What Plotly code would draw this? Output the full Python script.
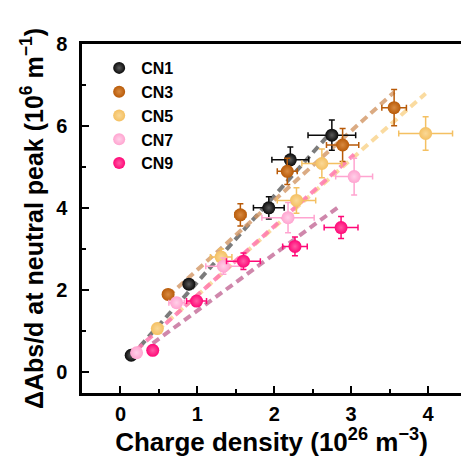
import plotly.graph_objects as go
import numpy as np

names = ["CN1", "CN3", "CN5", "CN7", "CN9"]

# charge density (1e26 m^-3) and dAbs/d (1e6 m^-1), with error bars
x_cn1 = [0.14, 0.89, 1.93, 2.21, 2.75]
y_cn1 = [0.42, 2.15, 4.01, 5.18, 5.78]
ex_cn1 = [0.00, 0.00, 0.20, 0.24, 0.31]
ey_cn1 = [0.00, 0.00, 0.27, 0.31, 0.37]

x_cn3 = [0.62, 1.56, 2.17, 2.89, 3.56]
y_cn3 = [1.90, 3.84, 4.90, 5.54, 6.45]
ex_cn3 = [0.00, 0.07, 0.13, 0.21, 0.16]
ey_cn3 = [0.00, 0.27, 0.32, 0.40, 0.44]

x_cn5 = [0.48, 1.31, 2.29, 2.62, 3.97]
y_cn5 = [1.07, 2.81, 4.19, 5.09, 5.82]
ex_cn5 = [0.00, 0.14, 0.25, 0.26, 0.35]
ey_cn5 = [0.00, 0.20, 0.31, 0.35, 0.41]

x_cn7 = [0.21, 0.73, 1.34, 2.18, 3.04]
y_cn7 = [0.48, 1.70, 2.59, 3.77, 4.77]
ex_cn7 = [0.00, 0.10, 0.23, 0.34, 0.24]
ey_cn7 = [0.00, 0.10, 0.20, 0.37, 0.45]

x_cn9 = [0.42, 0.99, 1.60, 2.27, 2.87]
y_cn9 = [0.54, 1.74, 2.71, 3.07, 3.53]
ex_cn9 = [0.00, 0.13, 0.22, 0.16, 0.22]
ey_cn9 = [0.00, 0.10, 0.20, 0.23, 0.27]

# linear fits (slope, intercept)
fit_slope = [2.10, 1.69, 1.655, 1.68, 1.376]
fit_intercept = [0.10, 0.81, 0.225, 0.20, 0.13]

xs = [x_cn1, x_cn3, x_cn5, x_cn7, x_cn9]
ys = [y_cn1, y_cn3, y_cn5, y_cn7, y_cn9]
exs = [ex_cn1, ex_cn3, ex_cn5, ex_cn7, ex_cn9]
eys = [ey_cn1, ey_cn3, ey_cn5, ey_cn7, ey_cn9]

colors = ["#0a0a0a", "#b85a08", "#f4c062", "#ffa4d0", "#ff0877"]
centers = ["#5a5a5a", "#d88a40", "#fad896", "#ffd0e8", "#ff5aa4"]
line_colors = ["rgba(90,90,90,0.8)", "rgba(210,150,100,0.8)", "rgba(250,215,150,0.9)",
               "rgba(255,120,175,0.85)", "rgba(195,105,150,0.8)"]

fig = go.Figure()

for i in range(5):
    xa = np.array([min(xs[i]), max(xs[i])])
    fig.add_trace(go.Scatter(
        x=xa, y=fit_slope[i] * xa + fit_intercept[i], mode="lines",
        line=dict(color=line_colors[i], width=4, dash="8px,5px"),
        showlegend=False, hoverinfo="skip"))

for i in range(5):
    fig.add_trace(go.Scatter(
        x=xs[i], y=ys[i], mode="markers", name=names[i], showlegend=False,
        marker=dict(size=13, color=colors[i],
                    gradient=dict(type="radial", color=centers[i]),
                    line=dict(width=0)),
        error_x=dict(type="data", array=exs[i], color=colors[i], thickness=1.5, width=3),
        error_y=dict(type="data", array=eys[i], color=colors[i], thickness=1.5, width=3),
    ))

# legend entries (markers only)
for i in range(5):
    fig.add_trace(go.Scatter(
        x=[None], y=[None], mode="markers", name=names[i],
        marker=dict(size=12, color=colors[i],
                    gradient=dict(type="radial", color=centers[i]),
                    line=dict(width=0))))

fig.update_layout(
    width=461, height=457,
    margin=dict(l=82, r=0, t=44, b=64),
    plot_bgcolor="white", paper_bgcolor="white",
    font=dict(family="Liberation Sans, Arial, sans-serif", color="black"),
    legend=dict(x=0.04, y=0.98, xanchor="left", yanchor="top",
                font=dict(size=16, family="Liberation Sans", color="black", weight="bold"),
                bgcolor="rgba(0,0,0,0)", itemwidth=34, tracegroupgap=0),
    xaxis=dict(range=[-0.5, 4.43], showgrid=False, zeroline=False,
               showline=True, linecolor="black", linewidth=2.5, mirror=True,
               ticks="inside", ticklen=7, tickwidth=2, tickcolor="black",
               tickvals=[0, 1, 2, 3, 4],
               minor=dict(tickvals=[0.5, 1.5, 2.5, 3.5], ticks="inside", ticklen=4, tickwidth=2, tickcolor="black"),
               tickfont=dict(size=20, weight="bold"),
               ticklabelstandoff=1,
               title=dict(text="Charge density (10<sup>26</sup> m<sup>\u22123</sup>)",
                          font=dict(size=26, weight="bold"), standoff=4)),
    yaxis=dict(range=[-0.5, 8], showgrid=False, zeroline=False,
               showline=True, linecolor="black", linewidth=2.5,
               ticks="inside", ticklen=7, tickwidth=2, tickcolor="black",
               tickvals=[0, 2, 4, 6, 8],
               minor=dict(tickvals=[1, 3, 5, 7], ticks="inside", ticklen=4, tickwidth=2, tickcolor="black"),
               tickfont=dict(size=20, weight="bold"),
               ticklabelstandoff=8,
               title=dict(text="\u0394Abs/d at neutral peak (10<sup>6</sup> m<sup>\u22121</sup>)",
                          font=dict(size=25, weight="bold"), standoff=6)),
)

fig.write_html("out.html")
